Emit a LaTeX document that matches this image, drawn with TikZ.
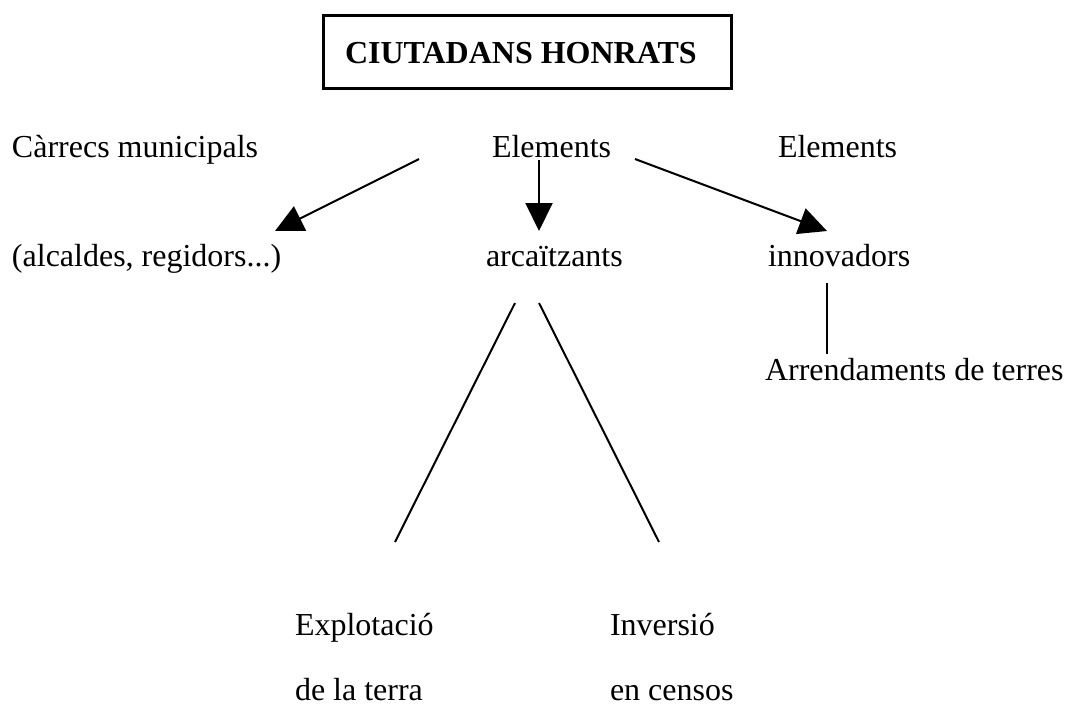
\documentclass[tikz,border=0pt]{standalone}
\usepackage{fontspec}
\setmainfont{Liberation Serif}
\usetikzlibrary{arrows.meta}
\begin{document}
\begin{tikzpicture}[x=1pt,y=-1pt,
  lbl/.style={anchor=base west,inner sep=0pt,outer sep=0pt,font=\fontsize{32}{38}\selectfont},
  ttl/.style={anchor=base west,inner sep=0pt,outer sep=0pt,font=\fontsize{32}{38}\selectfont\bfseries},
  frame/.style={draw,line width=3pt,rectangle,inner sep=0pt,minimum width=408pt,minimum height=73pt},
  conn/.style={line width=2pt},
  arr/.style={line width=2pt,-{Triangle[length=28pt,width=27pt]}}]
\useasboundingbox (0,0) rectangle (1068,713);
% title box
\node[frame] (box) at (527,51.5) {};
\node[ttl] (title) at (345,63) {CIUTADANS HONRATS};
% row 1
\node[lbl] (carrecs) at (12,157) {Càrrecs municipals};
\node[lbl] (elem1) at (492,157) {Elements};
\node[lbl] (elem2) at (778,157) {Elements};
% row 2
\node[lbl] (alcaldes) at (12,266) {(alcaldes, regidors...)};
\node[lbl] (arcaic) at (486,266) {arcaïtzants};
\node[lbl] (innov) at (768,266) {innovadors};
% row 3
\node[lbl] (arrend) at (765,380) {Arrendaments de terres};
% bottom
\node[lbl] (explot) at (295,635) {Explotació};
\node[lbl] (terra) at (295,700) {de la terra};
\node[lbl] (invers) at (610,635) {Inversió};
\node[lbl] (censos) at (610,700) {en censos};
% connector ends
\coordinate (aLs) at (419,159);
\coordinate (aLe) at (275,231);
\coordinate (aMs) at (539,160);
\coordinate (aMe) at (539,231);
\coordinate (aRs) at (635,159);
\coordinate (aRe) at (827,231);
\coordinate (lLs) at (515,303);
\coordinate (lLe) at (395,542);
\coordinate (lRs) at (539,303);
\coordinate (lRe) at (659,542);
\coordinate (vTs) at (827,283);
\coordinate (vTe) at (827,354);
% connectors
\draw[arr] (aLs) -- (aLe);
\draw[arr] (aMs) -- (aMe);
\draw[arr] (aRs) -- (aRe);
\draw[conn] (lLs) -- (lLe);
\draw[conn] (lRs) -- (lRe);
\draw[conn] (vTs) -- (vTe);
\end{tikzpicture}
\end{document}
